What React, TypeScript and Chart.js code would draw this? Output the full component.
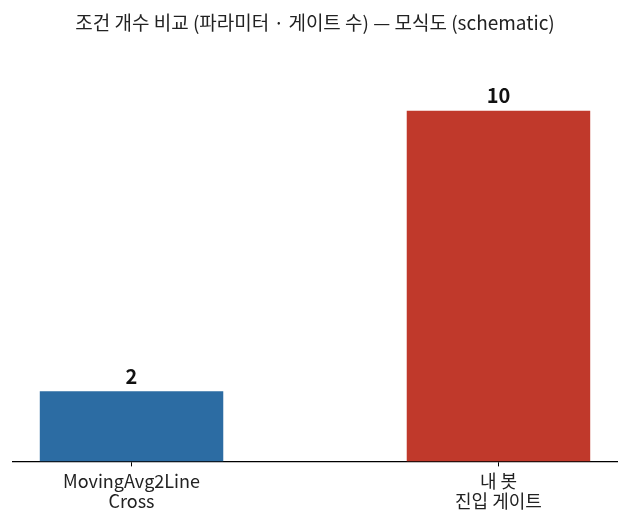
import React, { useEffect, useRef } from 'react';
import { Chart, registerables } from 'chart.js';

Chart.register(...registerables);

const categories = [['MovingAvg2Line', 'Cross'], ['내 봇', '진입 게이트']];
const counts = [2, 10];
const barColors = ['#2c6ca3', '#c0392b'];
const titleText = '조건 개수 비교 (파라미터 · 게이트 수) — 모식도 (schematic)';

const FONT = '"Noto Sans CJK KR", "Noto Sans", sans-serif';

// draws the number above each bar
const valueLabels = {
  id: 'valueLabels',
  afterDatasetsDraw(chart: any) {
    const { ctx } = chart;
    const meta = chart.getDatasetMeta(0);
    ctx.save();
    ctx.font = `bold 20px ${FONT}`;
    ctx.fillStyle = '#111';
    ctx.textAlign = 'center';
    ctx.textBaseline = 'bottom';
    meta.data.forEach((bar: any, i: number) => {
      ctx.fillText(String(counts[i]), bar.x, bar.y - 5);
    });
    ctx.restore();
  },
};

function App() {
  const chartRef = useRef<HTMLCanvasElement>(null);
  const chartInstance = useRef<Chart>();

  useEffect(() => {
    if (!chartRef.current) return;
    const ctx = chartRef.current.getContext('2d');
    if (!ctx) return;
    if (chartInstance.current) chartInstance.current.destroy();

    chartInstance.current = new Chart(ctx, {
      type: 'bar',
      data: {
        datasets: [{
          data: counts.map((v, i) => ({ x: i, y: v })),
          backgroundColor: barColors,
          borderWidth: 0,
          categoryPercentage: 1,
          barPercentage: 0.5,
        }],
      },
      plugins: [valueLabels],
      options: {
        animation: false,
        responsive: false,
        layout: { padding: { left: 13, right: 13, bottom: 9 } },
        plugins: {
          legend: { display: false },
          tooltip: { enabled: false },
          title: {
            display: true,
            text: titleText,
            color: '#222',
            font: { family: FONT, size: 19, weight: 'normal', lineHeight: 1.2 },
            padding: { top: 11, bottom: 42 },
          },
        },
        scales: {
          x: {
            type: 'linear',
            offset: false,
            min: -0.323,
            max: 1.323,
            afterBuildTicks: (scale: any) => {
              scale.ticks = categories.map((_, i) => ({ value: i }));
            },
            ticks: {
              autoSkip: false,
              maxRotation: 0,
              padding: 5,
              color: '#222',
              font: { family: FONT, size: 18, lineHeight: 1.1 },
              callback: (v: any) => categories[v as number],
            },
            grid: {
              display: true,
              offset: false,
              drawOnChartArea: false,
              drawTicks: true,
              tickLength: 5,
              tickColor: '#000',
              tickWidth: 1,
            },
            border: { display: true, color: '#000', width: 1.3 },
          },
          y: {
            display: false,
            min: 0,
            max: 11,
          },
        },
      },
    });

    return () => {
      if (chartInstance.current) {
        chartInstance.current.destroy();
        chartInstance.current = undefined;
      }
    };
  }, []);

  return (
    <div style={{ position: 'absolute', left: 0, top: 0, width: 630, height: 525, background: '#fff' }}>
      <canvas ref={chartRef} width={630} height={525}></canvas>
    </div>
  );
}

export default App;
